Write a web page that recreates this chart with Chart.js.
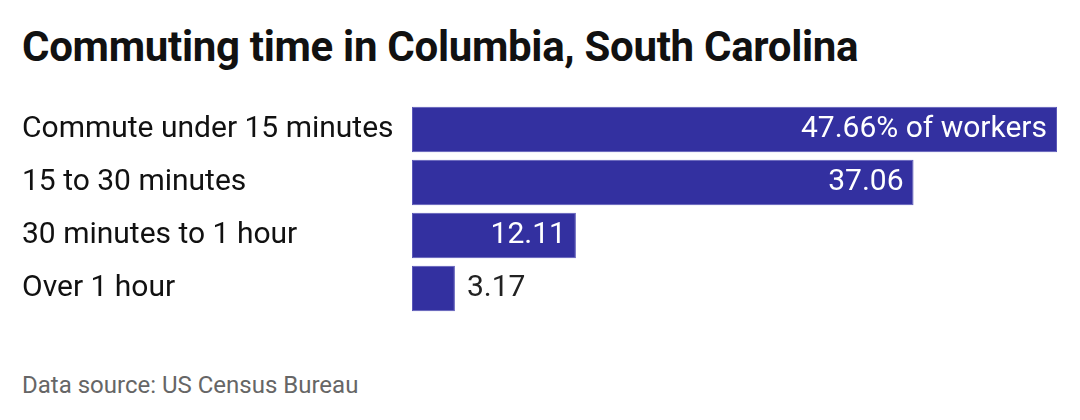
<!DOCTYPE html>
<html><head><meta charset="utf-8">
<script src="https://cdn.jsdelivr.net/npm/chart.js@4/dist/chart.umd.min.js"></script>
<style>
body{margin:0;width:1080px;height:420px;background:#fff;font-family:Roboto,sans-serif;position:relative;overflow:hidden}
h1{position:absolute;left:22px;top:22px;margin:0;font-size:42px;line-height:50px;font-weight:700;color:#111;letter-spacing:-0.3px}
#src{position:absolute;left:22px;top:371px;font-size:24px;line-height:28px;color:#666}
#c{position:absolute;left:0;top:85px}
</style></head><body>
<h1>Commuting time in Columbia, South Carolina</h1>
<canvas id="c" width="1080" height="248"></canvas>
<div id="src">Data source: US Census Bureau</div>
<script>
const categories=["Commute under 15 minutes","15 to 30 minutes","30 minutes to 1 hour","Over 1 hour"];
const values=[47.66,37.06,12.11,3.17];
const valueLabels=["47.66% of workers","37.06","12.11","3.17"];
const labelPlugin={id:'lbl',afterDatasetsDraw(ch){
 const ctx=ch.ctx;const meta=ch.getDatasetMeta(0);
 ctx.save();ctx.font='30px Roboto';ctx.textBaseline='middle';
 meta.data.forEach((b,i)=>{
  const t=valueLabels[i];const w=ctx.measureText(t).width;
  if(b.x-b.base>w+20){ctx.fillStyle='#fff';ctx.textAlign='right';ctx.fillText(t,b.x-10,b.y);}
  else{ctx.fillStyle='#222';ctx.textAlign='left';ctx.fillText(t,b.x+12,b.y);}
 });ctx.restore();}};
new Chart(document.getElementById('c'),{type:'bar',
 data:{labels:categories,datasets:[{data:values,backgroundColor:'#3330a0',borderColor:'#5a57b8',borderWidth:1,borderSkipped:false,barPercentage:0.855,categoryPercentage:1}]},
 options:{indexAxis:'y',responsive:false,maintainAspectRatio:false,animation:false,devicePixelRatio:1,
  layout:{padding:{left:22,right:23,top:0,bottom:0}},
  plugins:{legend:{display:false},tooltip:{enabled:false}},
  scales:{x:{display:false,min:0,max:47.66},
   y:{grid:{display:false},border:{display:false},
    ticks:{crossAlign:'far',color:'#111',font:{family:'Roboto',size:30},padding:0},
    afterFit(s){s.width=412-22;}}}},
 plugins:[labelPlugin]});
</script></body></html>
